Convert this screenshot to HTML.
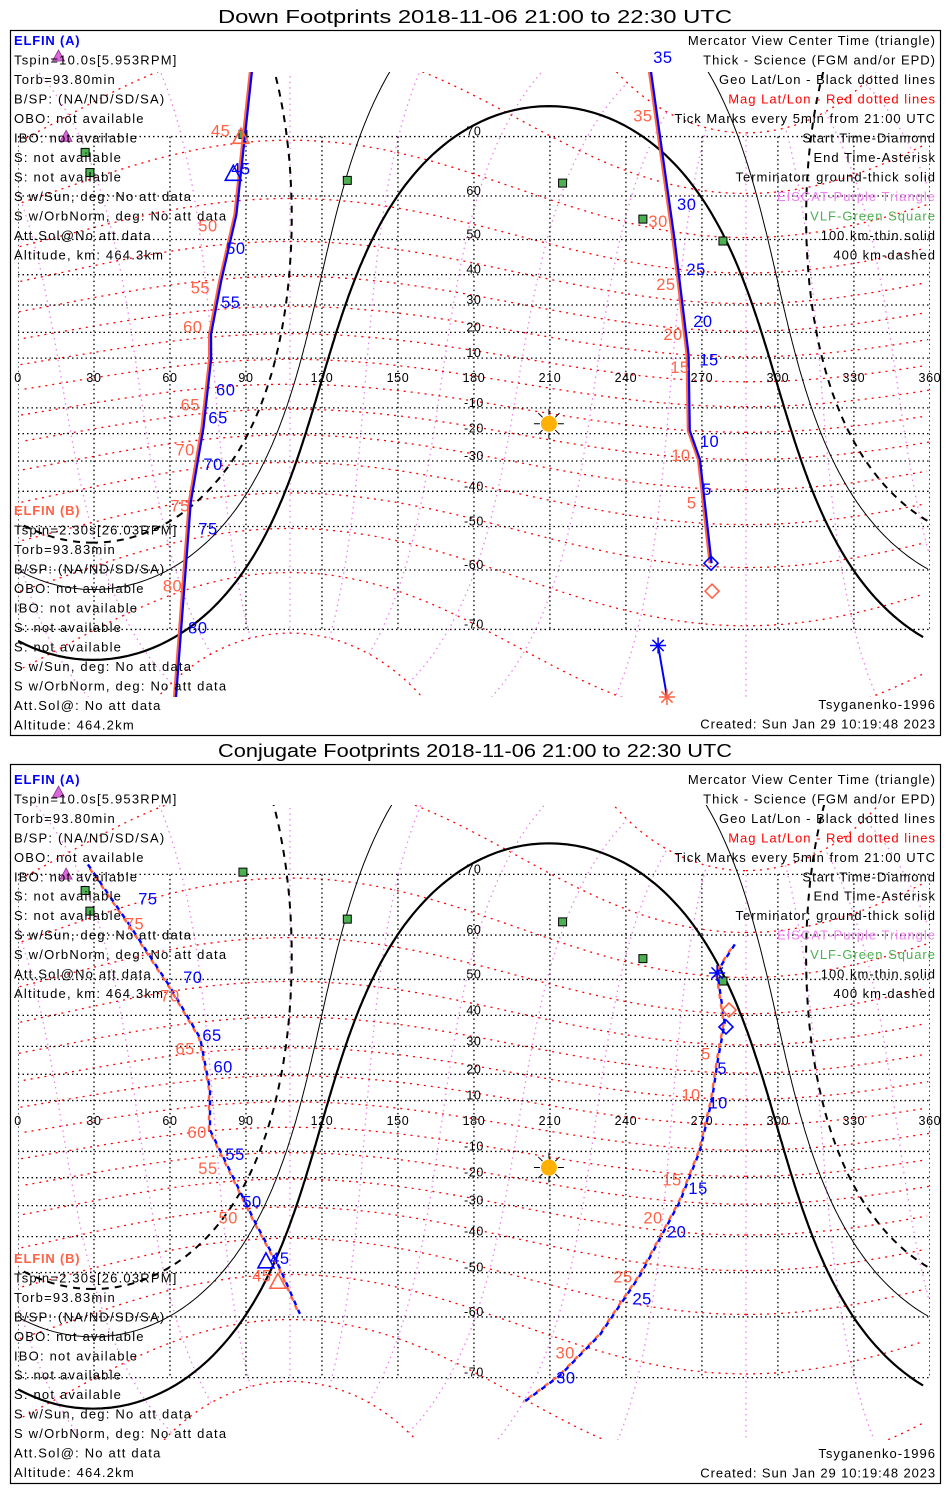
<!DOCTYPE html>
<html><head><meta charset="utf-8"><style>
html,body{margin:0;padding:0;background:#fff;width:950px;height:1500px;overflow:hidden;}
svg{display:block;font-family:"Liberation Sans",sans-serif;overflow:hidden;}
</style></head><body>
<svg id="chart" width="950" height="1500" viewBox="0 0 950 1500" xmlns="http://www.w3.org/2000/svg">
<defs>
<clipPath id="clip1"><rect x="18" y="72" width="912" height="625"/></clipPath>
<clipPath id="clip2"><rect x="18" y="805" width="912" height="635"/></clipPath>
</defs>
</svg>
<script>
// ---- data (lon, lat in degrees) ----
const lonTicks=[0,30,60,90,120,150,180,210,240,270,300,330,360];
const latTicks=[-70,-60,-50,-40,-30,-20,-10,10,20,30,40,50,60,70];
const sunLon=209.6, sunLat=-16.2;
const stationLon=[26.5,28.4,88.8,130,215,246.7,278.3];
const stationLat=[67.7,64.4,70.3,63,62.5,55,49.6];
const eiscatLon=[16,19];
const eiscatLat=[78.5,69.9];
// Panel 1 (down footprints)
const p1aLon=[93,86,80,76,76,73,68,62];
const p1aLat=[79,56,38,19.3,9.4,-17.7,-43.3,-78];
const p1aBlueTxt=["45","50","55","60","65","70","75","80"];
const p1aBlueLon=[88,86,84,82,79,77,75,71];
const p1aBlueLat=[65.1,47.7,31.1,-2.6,-13.7,-31,-50.5,-69.7];
const p1aRedLon=[80,75,72,69,68,66,64,61];
const p1aRedLat=[70.8,53.5,36,22.3,-8.6,-25.9,-44.3,-63];
const p1bLon=[248.5,254,259,264.5,265,269,273.6];
const p1bLat=[79,68,50,11.4,-18.8,-29.5,-58.6];
const p1bBlueTxt=["35","30","25","20","15","10","5"];
const p1bBlueLon=[254.6,264,267.7,270.4,272.8,273,272];
const p1bBlueLat=[78.5,58.3,41.8,24.2,9.4,-22.8,-39.2];
const p1bRedLon=[246.7,252.7,255.8,258.6,261.3,261.7,266];
const p1bRedLat=[72.7,54.5,37,19.3,6.4,-27.9,-43.3];
const p1tailLon=[252.7,256.2];
const p1tailLat=[-72.1,-77.5];
// Panel 2 (conjugate footprints)
const p2aLon=[27.6,44.2,60,71.9,75.8,75.8,83.8,93.6,103.4,111.3];
const p2aLat=[71.3,61.8,48.1,32.8,14.3,-1.6,-17.7,-35.5,-48.9,-59.4];
const p2aBlueTxt=["75","70","65","60","55","50","45"];
const p2aBlueLon=[51.3,69,76.6,81,85.7,92.4,103.4];
const p2aBlueLat=[66.5,50.6,33.8,22.9,-10.9,-28.6,-46.2];
const p2aRedLon=[46,60,66,70.7,75,83,96.3];
const p2aRedLat=[62.2,45.7,29.3,-2.4,-16.3,-33.9,-50.7];
const p2bLon=[283,276,279,276.4,274,269.2,261.3,245.6,229.8,214,200];
const p2bLat=[58.1,51.9,37.7,25.8,10.4,-9.7,-28.6,-50.7,-63.3,-69.7,-73];
const p2bBlueTxt=["5","10","15","20","25","30"];
const p2bBlueLon=[278,276.4,268.5,260,246.4,216.3];
const p2bBlueLat=[22.3,9.3,-23.8,-38.5,-56.1,-70];
const p2bRedLon=[271.6,265.7,258.2,250.7,238.8,216];
const p2bRedLat=[27.5,12.4,-20.6,-33.9,-51,-66.3];

const NS="http://www.w3.org/2000/svg";
const svg=document.getElementById('chart');
function mk(tag,attrs,parent){const e=document.createElementNS(NS,tag);for(const k in attrs)e.setAttribute(k,attrs[k]);(parent||svg).appendChild(e);return e;}
function X(lon){return 18+lon*2.533;}
function mkY(y0,k){return lat=>y0-k*Math.log(Math.tan(Math.PI/4+lat*Math.PI/360));}
const D=Math.PI/180;
function rot(pLat,pLon,a,b){
 a*=D;b*=D;let x=Math.cos(a)*Math.cos(b),y=Math.cos(a)*Math.sin(b),z=Math.sin(a);
 const th=(90-pLat)*D;let x1=x*Math.cos(th)+z*Math.sin(th),z1=-x*Math.sin(th)+z*Math.cos(th);
 const pl=pLon*D;let x2=x1*Math.cos(pl)-y*Math.sin(pl),y2=x1*Math.sin(pl)+y*Math.cos(pl);
 let lat=Math.asin(Math.max(-1,Math.min(1,z1)))/D,lon=Math.atan2(y2,x2)/D;if(lon<0)lon+=360;
 return [lon,lat];
}
function pathFrom(pts,Y){let d="",px=null;
 for(const p of pts){
  if(Math.abs(p[1])>84){px=null;continue;}
  const x=X(p[0]),y=Y(p[1]);
  d+=(px===null||Math.abs(x-px)>300?"M":"L")+x.toFixed(1)+" "+y.toFixed(1)+" ";px=x;}
 return d;}
function lineOf(lons,lats,Y){return lons.map((l,i)=>"".concat(i?"L":"M",X(l).toFixed(1)," ",Y(lats[i]).toFixed(1))).join(" ");}

const panels=[
 {y0:383,k:142,top:72,bot:697,boxT:30,boxB:735,titleY:23,title:"Down Footprints 2018-11-06 21:00 to 22:30 UTC",clip:"clip1",textA:40,textB:510,dy:19.5,tsyY:709,
  A:[p1aLon,p1aLat,p1aBlueTxt,p1aBlueLon,p1aBlueLat,p1aRedLon,p1aRedLat],B:[p1bLon,p1bLat,p1bBlueTxt,p1bBlueLon,p1bBlueLat,p1bRedLon,p1bRedLat],dashed:false,name:"down"},
 {y0:1126,k:145,top:805,bot:1440,boxT:764,boxB:1483,titleY:757,title:"Conjugate Footprints 2018-11-06 21:00 to 22:30 UTC",clip:"clip2",textA:779,textB:1258,dy:19.45,tsyY:1458,
  A:[p2aLon,p2aLat,p2aBlueTxt,p2aBlueLon,p2aBlueLat,p2aRedLon,p2aRedLat],B:[p2bLon,p2bLat,p2bBlueTxt,p2bBlueLon,p2bBlueLat,p2bRedLon,p2bRedLat],dashed:true,name:"conjugate"}
];
const leftA=["Tspin=10.0s[5.953RPM]","Torb=93.80min","B/SP: (NA/ND/SD/SA)","OBO: not available","IBO: not available","S: not available","S: not available","S w/Sun, deg: No att data","S w/OrbNorm, deg: No att data","Att.Sol@No att data","Altitude, km: 464.3km"];
const leftB=["Tspin=2.30s[26.03RPM]","Torb=93.83min","B/SP: (NA/ND/SD/SA)","OBO: not available","IBO: not available","S: not available","S: not available","S w/Sun, deg: No att data","S w/OrbNorm, deg: No att data","Att.Sol@: No att data","Altitude: 464.2km"];
const legend=[["Mercator View Center Time (triangle)","#000"],["Thick - Science (FGM and/or EPD)","#000"],["Geo Lat/Lon - Black dotted lines","#000"],["Mag Lat/Lon - Red dotted lines","#ff0000"],["Tick Marks every 5min from 21:00 UTC","#000"],["Start Time-Diamond","#000"],["End Time-Asterisk","#000"],["Terminator: ground-thick solid","#000"],["EISCAT-Purple Triangle","#ee82ee"],["VLF-Green Square","#4caf50"],["100 km-thin solid","#000"],["400 km-dashed","#000"]];
const BLUE="#0000ff",ORG="#ff6347";

function tri(g,x,y,c){return mk('path',{d:`M${x} ${y-9}L${x+8} ${y+6}L${x-8} ${y+6}Z`,fill:'none',stroke:c,'stroke-width':1.6},g);}
function dia(g,x,y,c){return mk('path',{d:`M${x} ${y-7}L${x+7} ${y}L${x} ${y+7}L${x-7} ${y}Z`,fill:'none',stroke:c,'stroke-width':1.6},g);}
function ast(g,x,y,c){let d="";for(let a=0;a<180;a+=45){const dx=8*Math.cos(a*D),dy=8*Math.sin(a*D);d+=`M${x-dx} ${y-dy}L${x+dx} ${y+dy}`;}return mk('path',{d,stroke:c,'stroke-width':1.5},g);}

panels.forEach((P,pi)=>{
 const Y=mkY(P.y0,P.k);
 const g=mk('g',{});
 
 
 const t=mk('text',{x:475,y:P.titleY,'text-anchor':'middle','font-size':18,textLength:514,lengthAdjust:'spacingAndGlyphs'},g);t.textContent=P.title;
 
 
 const box=mk('rect',{x:10.5,y:P.boxT+.5,width:930,height:P.boxB-P.boxT,fill:'none',stroke:'#000','stroke-width':1.2},g);
 
 
 const map=mk('g',{'clip-path':`url(#${P.clip})`},g);
 
 
 for(let ml=0;ml<360;ml+=30){const pts=[];for(let a=-80;a<=80;a+=2)pts.push(rot(80.5,287.4,a,ml));
  const e=mk('path',{d:pathFrom(pts,Y),fill:'none',stroke:'#ee82ee','stroke-width':1.3,'stroke-dasharray':'1.5,4'},map);
  
  }
 for(let ma=-80;ma<=80;ma+=10){const pts=[];for(let b=0;b<=360;b+=3)pts.push(rot(80.5,287.4,ma,b));
  const e=mk('path',{d:pathFrom(pts,Y),fill:'none',stroke:'#ff0000','stroke-width':1.3,'stroke-dasharray':'2,5'},map);
  
  }
 lonTicks.forEach(l=>{const e=mk('line',{x1:X(l),x2:X(l),y1:Y(70),y2:Y(-70),stroke:'#000','stroke-width':1.3,'stroke-dasharray':'1.5,3'},map);
  
  
  const tx=mk('text',{x:X(l),y:P.y0-1,'text-anchor':'middle','font-size':12.5,'letter-spacing':'0.6'},g);tx.textContent=l;
  
  });
 latTicks.forEach(l=>{const e=mk('line',{x1:18,x2:930,y1:Y(l),y2:Y(l),stroke:'#000','stroke-width':1.3,'stroke-dasharray':'1.5,3'},map);
  
  
  const tx=mk('text',{x:X(180),y:Y(l)-1,'text-anchor':'middle','font-size':12.5,'letter-spacing':'0.6'},g);tx.textContent=l;
  
  });
 [[0,2.2,null,'terminator-ground'],[-10.1,1,null,'terminator-100km'],[-19.8,2,'7,6','terminator-400km']].forEach(tm=>{
  const pts=[];for(let b=0;b<=360;b+=1)pts.push(rot(sunLat,sunLon,tm[0],b));
  const a={d:pathFrom(pts,Y),fill:'none',stroke:'#000','stroke-width':tm[1]};if(tm[2])a['stroke-dasharray']=tm[2];
  const e=mk('path',a,map);
  
  });
 stationLon.forEach((l,i)=>{const e=mk('rect',{x:X(l)-4,y:Y(stationLat[i])-4,width:8,height:8,fill:'#4caf50',stroke:'#000','stroke-width':1},g);
  
  });
 eiscatLon.forEach((l,i)=>{const x=X(l),y=Y(eiscatLat[i]);const e=mk('path',{d:`M${x} ${y-7}L${x+6} ${y+4}L${x-6} ${y+4}Z`,fill:'#dd66dd',stroke:'#883388','stroke-width':.8},g);
  
  });
 const sx=X(sunLon),sy=Y(sunLat);const sun=mk('g',{},g);
 
 
 let sd="";for(let a=0;a<360;a+=45){sd+=`M${sx+9*Math.cos(a*D)} ${sy+9*Math.sin(a*D)}L${sx+15*Math.cos(a*D)} ${sy+15*Math.sin(a*D)}`;}
 mk('path',{d:sd,stroke:'#000','stroke-width':1},sun);mk('circle',{cx:sx,cy:sy,r:8,fill:'#ffb000'},sun);
 [P.A,P.B].forEach((T,ti)=>{
  const tg=mk('g',{'clip-path':`url(#${P.clip})`},g);
  
  
  const d=lineOf(T[0],T[1],Y);
  if(P.dashed){
   mk('path',{d,fill:'none',stroke:ORG,'stroke-width':2.4,'stroke-dasharray':'5,5','stroke-dashoffset':5,transform:'translate(-1,0)'},tg);
   mk('path',{d,fill:'none',stroke:BLUE,'stroke-width':2.4,'stroke-dasharray':'5,5'},tg);
  }else{
   mk('path',{d,fill:'none',stroke:ORG,'stroke-width':2.4,transform:'translate(-1.3,0)'},tg);
   mk('path',{d,fill:'none',stroke:BLUE,'stroke-width':2.2,transform:'translate(0.6,0)'},tg);
  }
  T[2].forEach((s,i)=>{
   const b=mk('text',{x:X(T[3][i]),y:Y(T[4][i])+6,'text-anchor':'middle','font-size':16.5,fill:BLUE,'letter-spacing':'0.5'},g);b.textContent=s;
   
   
   const r=mk('text',{x:X(T[5][i]),y:Y(T[6][i])+6,'text-anchor':'middle','font-size':16.5,fill:ORG,'letter-spacing':'0.5'},g);r.textContent=s;
   
   });
 });
 if(pi===0){
  tri(g,X(85),Y(64.1),BLUE);tri(g,X(88),Y(69.9),ORG);
  dia(g,X(273.6),Y(-58.6),BLUE);dia(g,X(274),Y(-64),ORG);
  mk('path',{d:lineOf(p1tailLon,p1tailLat,Y),stroke:BLUE,'stroke-width':2,fill:'none'},g);
  ast(g,X(p1tailLon[0]),Y(p1tailLat[0]),BLUE);ast(g,X(p1tailLon[1]),Y(p1tailLat[1]),ORG);
 }else{
  tri(g,X(97.9),Y(-47.2),BLUE);tri(g,X(102.6),Y(-52.4),ORG);
  dia(g,X(279.5),Y(36.4),BLUE);dia(g,X(280.7),Y(41.6),ORG);
  ast(g,X(276),Y(51.6),BLUE);
 }
 const ta=mk('text',{x:14,y:P.textA+5,'font-size':13,'font-weight':'bold',fill:BLUE,'letter-spacing':'0.8'},g);ta.textContent="ELFIN (A)";
 
 
 leftA.forEach((s,i)=>{const e=mk('text',{x:14,y:P.textA+5+(i+1)*P.dy,'font-size':13,'letter-spacing':'1.2'},g);e.textContent=s;
  
  });
 const tb=mk('text',{x:14,y:P.textB+5,'font-size':13,'font-weight':'bold',fill:ORG,'letter-spacing':'0.8'},g);tb.textContent="ELFIN (B)";
 
 
 leftB.forEach((s,i)=>{const e=mk('text',{x:14,y:P.textB+5+(i+1)*P.dy,'font-size':13,'letter-spacing':'1.2'},g);e.textContent=s;
  
  });
 legend.forEach((s,i)=>{const e=mk('text',{x:936,y:P.textA+5+i*P.dy,'font-size':13,'text-anchor':'end',fill:s[1],'letter-spacing':'1.0'},g);e.textContent=s[0];
  
  });
 const ts=mk('text',{x:936,y:P.tsyY,'font-size':13,'text-anchor':'end','letter-spacing':'1.0'},g);ts.textContent="Tsyganenko-1996";
 
 
 const cr=mk('text',{x:936,y:P.tsyY+19.5,'font-size':13,'text-anchor':'end','letter-spacing':'0.9'},g);cr.textContent="Created: Sun Jan 29 10:19:48 2023";
 
 
});
</script>
</body></html>
